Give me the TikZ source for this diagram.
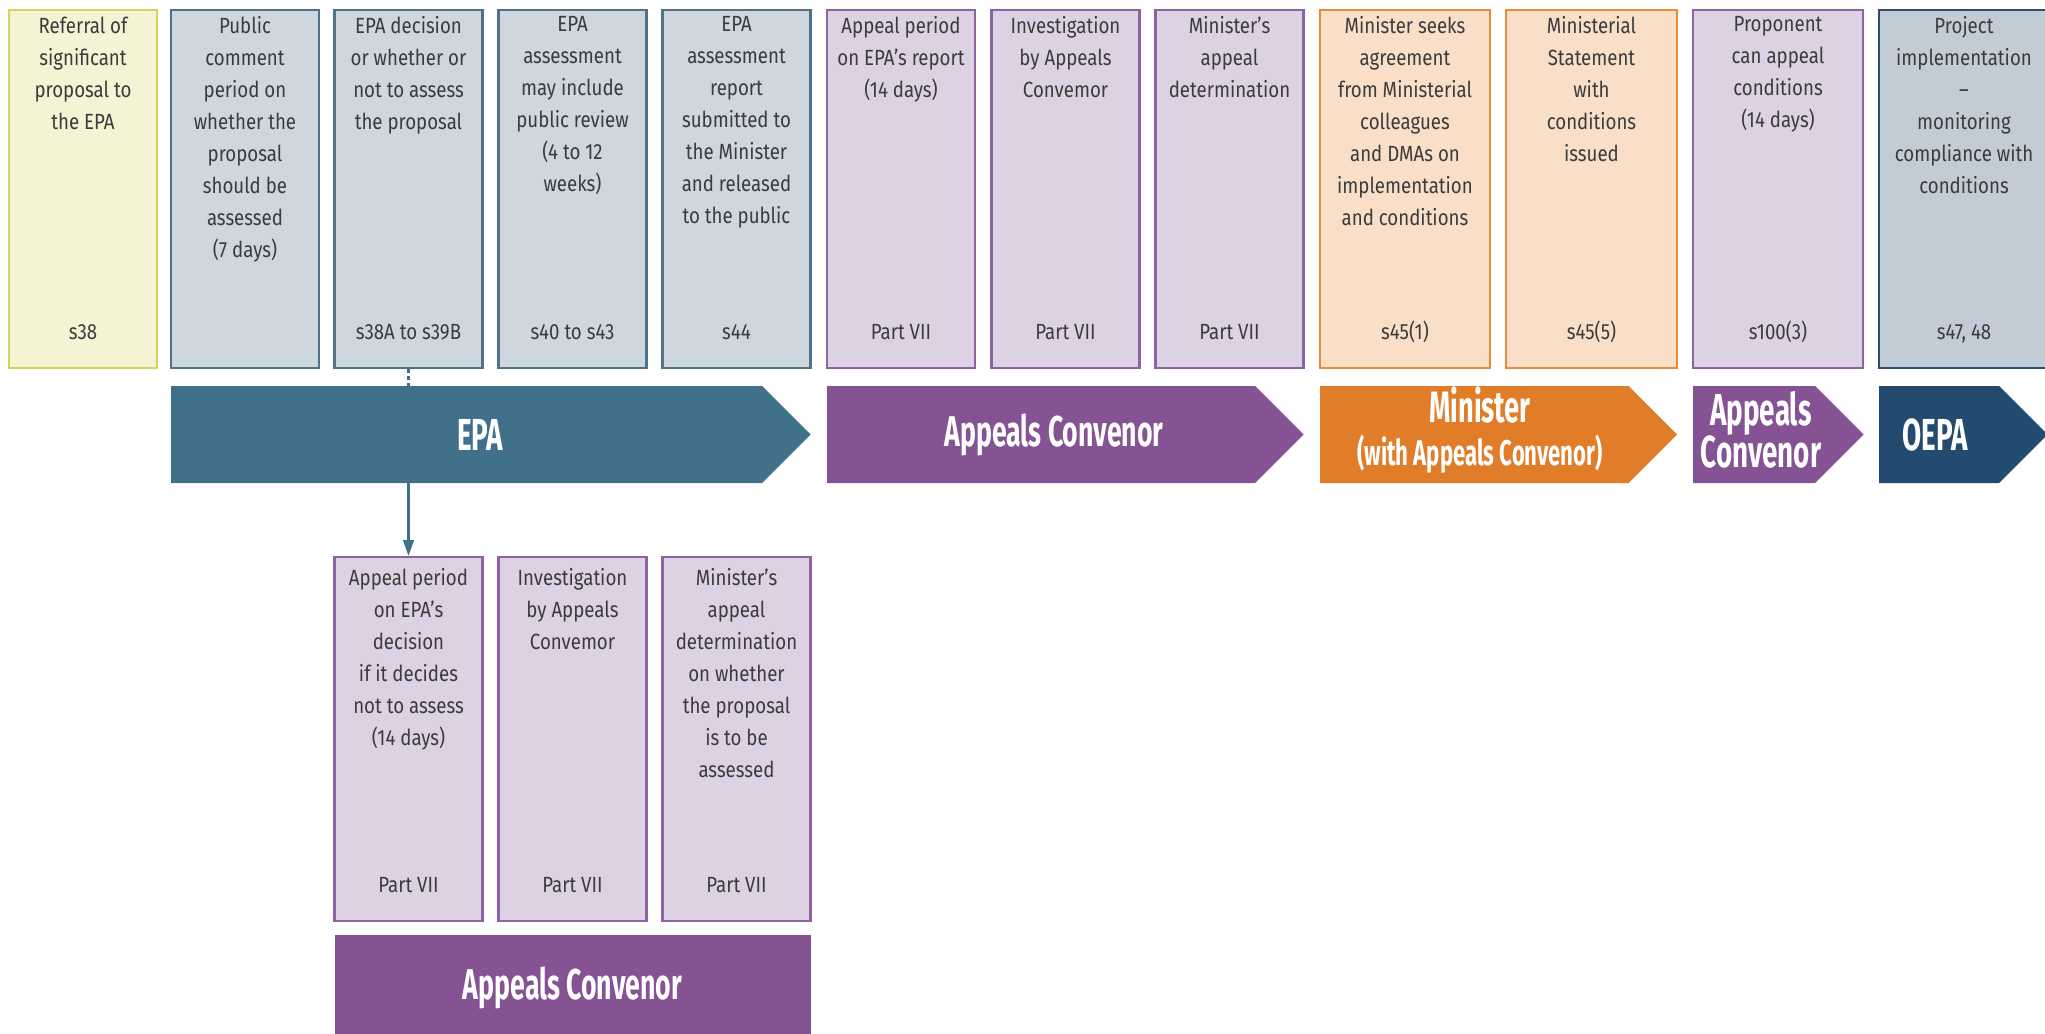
\documentclass[tikz,border=0pt]{standalone}
\usepackage{fontspec}
\setmainfont{Fira Sans}[FakeStretch=0.85]
\newfontfamily\bandfont{Fira Sans}[FakeStretch=0.62]
\usetikzlibrary{arrows.meta}
\definecolor{refline}{HTML}{D2D45E}
\definecolor{reffill}{HTML}{F4F3D3}
\definecolor{epaline}{HTML}{4F7289}
\definecolor{epafill}{HTML}{CED6DE}
\definecolor{apline}{HTML}{8F63A1}
\definecolor{apfill}{HTML}{DCD2E4}
\definecolor{minline}{HTML}{E58B3C}
\definecolor{minfill}{HTML}{F9DEC8}
\definecolor{oepaline}{HTML}{2E4E6D}
\definecolor{oepafill}{HTML}{C2CCD6}
\definecolor{epacol}{HTML}{41718A}
\definecolor{apcol}{HTML}{855293}
\definecolor{mincol}{HTML}{E17D28}
\definecolor{oepacol}{HTML}{234B70}
\definecolor{txtcol}{HTML}{3B3B3B}
\tikzset{box/.style={draw, line width=1.2pt, minimum height=7.16cm, inner sep=0pt}}
\tikzset{refbox/.style={draw=refline, fill=reffill},
         epabox/.style={draw=epaline, fill=epafill},
         apbox/.style={draw=apline, fill=apfill},
         minbox/.style={draw=minline, fill=minfill},
         oepabox/.style={draw=oepaline, fill=oepafill}}
\tikzset{boxtext/.style={align=center, inner sep=0pt, text=txtcol, font=\fontsize{12.5}{18.2}\selectfont},
         bandtext/.style={align=center, inner sep=0pt, text=white, minimum height=1.94cm,
                          font=\bandfont\bfseries\fontsize{25.5}{26}\selectfont}}

\begin{document}
\begin{tikzpicture}
  \clip (0,0) rectangle (40.9,-20.66);
  \fill[white] (0,0) rectangle (40.9,-20.66);
  % steps along the top
  \foreach \x/\w/\kind/\txt/\sec [count=\n] in {
      1.66/2.96/refbox/{Referral of\\significant\\proposal to\\the EPA}/s38,
      4.90/2.96/epabox/{Public\\comment\\period on\\whether the\\proposal\\should be\\assessed\\(7 days)}/{},
      8.17/2.96/epabox/{EPA decision\\or whether or\\not to assess\\the proposal}/s38A to s39B,
      11.45/2.96/epabox/{EPA\\assessment\\may include\\public review\\(4 to 12\\weeks)}/s40 to s43,
      14.73/2.96/epabox/{EPA\\assessment\\report\\submitted to\\the Minister\\and released\\to the public}/s44,
      18.02/2.96/apbox/{Appeal period\\on EPA’s report\\(14 days)}/Part VII,
      21.31/2.96/apbox/{Investigation\\by Appeals\\Convemor}/Part VII,
      24.59/2.96/apbox/{Minister’s\\appeal\\determination}/Part VII,
      28.10/3.41/minbox/{Minister seeks\\agreement\\from Ministerial\\colleagues\\and DMAs on\\implementation\\and conditions}/s45(1),
      31.83/3.41/minbox/{Ministerial\\Statement\\with\\conditions\\issued}/s45(5),
      35.56/3.41/apbox/{Proponent\\can appeal\\conditions\\(14 days)}/s100(3),
      39.28/3.41/oepabox/{Project\\implementation\\–\\monitoring\\compliance with\\conditions}/{s47, 48}}{
    \node[box,\kind,minimum width=\w cm] (b\n) at (\x,-3.78) {};
    \node[boxtext,anchor=north] (t\n) at ([yshift=-0.15cm]b\n.north) {\txt};
    \node[boxtext,anchor=base] (s\n) at ([yshift=0.6cm]b\n.south) {\sec};
  }
  % appeal branch below EPA
  \foreach \x/\txt [count=\n] in {
      8.17/{Appeal period\\on EPA’s\\decision\\if it decides\\not to assess\\(14 days)},
      11.45/{Investigation\\by Appeals\\Convemor},
      14.73/{Minister’s\\appeal\\determination\\on whether\\the proposal\\is to be\\assessed}}{
    \node[box,apbox,minimum width=2.96cm,minimum height=7.28cm] (l\n) at (\x,-14.78) {};
    \node[boxtext,anchor=north] (lt\n) at ([yshift=-0.25cm]l\n.north) {\txt};
    \node[boxtext,anchor=base] (ls\n) at ([yshift=0.6cm]l\n.south) {Part VII};
  }
  % who is responsible
  \foreach \xa/\xb/\col in {3.42/16.21/epacol, 16.54/26.07/apcol, 26.4/33.54/mincol,
                            33.86/37.27/apcol, 37.58/40.95/oepacol}{
    \fill[\col] (\xa,-7.72) -- (\xb-0.97,-7.72) -- (\xb,-8.69) -- (\xb-0.97,-9.66) -- (\xa,-9.66) -- cycle;
  }
  \node[bandtext] (epa) at (9.6,-8.69) {EPA};
  \node[bandtext,font=\bandfont\bfseries\fontsize{24.5}{26}\selectfont] (acA) at (21.08,-8.69) {Appeals Convenor};
  \node[bandtext,font=\bandfont\bfseries\fontsize{25}{24.4}\selectfont] (min) at (29.6,-8.6)
       {Minister\\{\fontsize{20.3}{24.4}\selectfont(with Appeals Convenor)}};
  \node[bandtext,font=\bandfont\bfseries\fontsize{25.5}{24}\selectfont] (acB) at (35.22,-8.6) {Appeals\\Convenor};
  \node[bandtext] (oepa) at (38.7,-8.69) {OEPA};
  \node[bandtext,font=\bandfont\bfseries\fontsize{24.5}{26}\selectfont,fill=apcol,minimum width=9.52cm,minimum height=2.1cm] (acC) at (11.45,-19.75) {Appeals Convenor};

  \draw[dash pattern=on 2pt off 2pt, line width=1.4pt, epacol] (b3.south) -- (b3.south |- epa.north);
  \draw[line width=1.4pt, epacol, -{Triangle[width=6pt,length=9pt]}] (b3.south |- epa.south) -- (l1.north);
\end{tikzpicture}
\end{document}
